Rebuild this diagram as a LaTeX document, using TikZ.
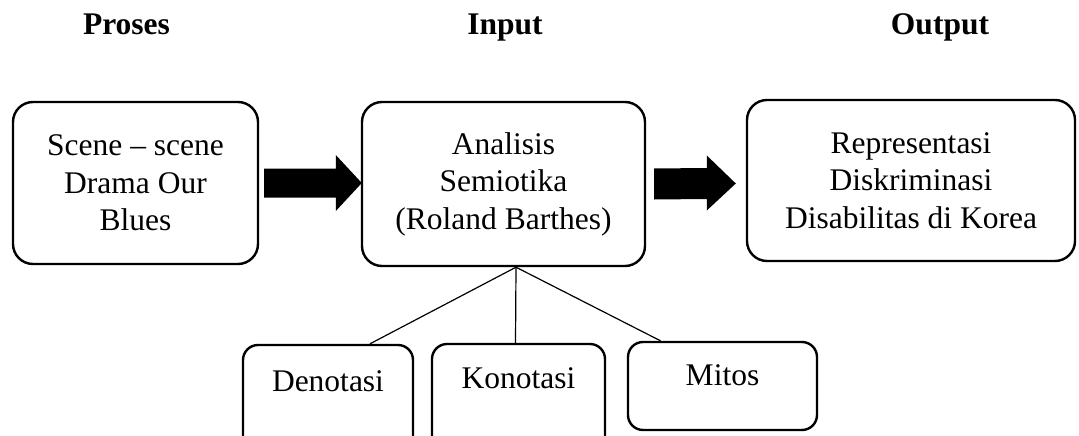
\documentclass[tikz,border=0pt]{standalone}
\usepackage{fontspec}
\setmainfont{Liberation Serif}
\usetikzlibrary{calc}
\begin{document}
\begin{tikzpicture}[x=1pt,y=-1pt,
  box/.style={draw=black, line width=2.4pt, rounded corners=20pt, inner sep=0pt, align=center,
    font=\fontsize{31.5}{37.5}\selectfont},
  smallbox/.style={draw=black, line width=2.4pt, rounded corners=15pt, inner sep=0pt},
  lbl/.style={font=\fontsize{31.5}{37.5}\selectfont, inner sep=0pt, anchor=base},
  head/.style={font=\fontsize{31.5}{37.5}\selectfont\bfseries, inner sep=0pt, anchor=base},
  link/.style={draw=black, line width=1.2pt},
  fat/.style={fill=black, draw=none}
]
\useasboundingbox (0,0) rectangle (1079,436);
\clip (0,0) rectangle (1079,436);
% headers
\node[head] (hp) at (126.5,35) {Proses};
\node[head] (hi) at (505,35) {Input};
\node[head] (ho) at (940,35) {Output};
% main boxes
\node[box, minimum width=245pt, minimum height=162pt] (b1) at (135.5,183) {Scene -- scene\\Drama Our\\Blues};
\node[box, minimum width=283pt, minimum height=164pt] (b2) at (503.5,184) {Analisis\\Semiotika\\(Roland Barthes)};
\node[box, minimum width=328pt, minimum height=161pt] (b3) at (911,180.5) {Representasi\\Diskriminasi\\Disabilitas di Korea};
% bottom boxes
\node[smallbox, minimum width=170pt, minimum height=120pt] (den) at (328,405) {};
\node[smallbox, minimum width=173pt, minimum height=120pt] (kon) at (518.5,404) {};
\node[smallbox, minimum width=189pt, minimum height=88pt] (mit) at (722.5,386) {};
\node[lbl] (dent) at ($(den.north)+(0,48)$) {Denotasi};
\node[lbl] (kont) at ($(kon.north)+(0,46)$) {Konotasi};
\node[lbl] (mitt) at ($(mit.north)+(0,45)$) {Mitos};
% connectors
\coordinate (apex) at ($(b2.south)+(12.5,0)$);
\draw[link] (apex) -- ($(den.north)+(42,0)$);
\draw[link] (apex) -- ($(kon.north)+(-3,0)$);
\draw[link] (apex) -- ($(mit.north)+(-62,0)$);
% block arrows
\coordinate (a1s) at ($(b1.east)+(5,0)$);
\coordinate (a1e) at ($(b2.west)+(1,-1)$);
\fill[fat] ($(a1s)+(0,-14.5)$) -- ($(a1e)+(-26,-14.5)$) -- ($(a1e)+(-26,-28)$) -- (a1e)
  -- ($(a1e)+(-26,28)$) -- ($(a1e)+(-26,14.5)$) -- ($(a1s)+(0,14.5)$) -- cycle;
\coordinate (a2s) at ($(b2.east)+(8,0)$);
\coordinate (a2e) at ($(b3.west)+(-10,3)$);
\fill[fat] ($(a2s)+(0,-15.5)$) -- ($(a2e)+(-29,-15.5)$) -- ($(a2e)+(-29,-28)$) -- (a2e)
  -- ($(a2e)+(-29,27)$) -- ($(a2e)+(-29,15.5)$) -- ($(a2s)+(0,15.5)$) -- cycle;
\end{tikzpicture}
\end{document}
